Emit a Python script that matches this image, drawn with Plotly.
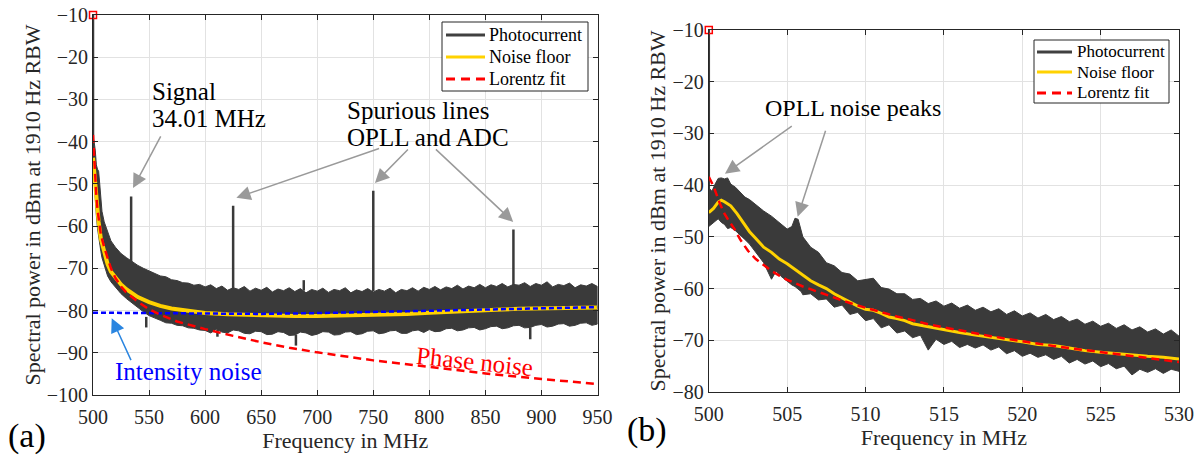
import plotly.graph_objects as go

# ---------------- Panel (a) data ----------------
a_freq = ([500, 501, 502, 503, 504, 505, 506, 507, 508, 510, 513, 516, 520, 525, 530, 535, 540, 545,
           550, 555, 560, 565, 570, 575, 580, 585, 590, 595] + list(range(600, 951, 5)))
a_upper = [-39, -40, -42, -45.5, -46.5, -47, -50, -54, -56.5, -59, -61.5, -63.5, -65, -66.5, -67.5,
           -68.5, -69.3, -70, -70.6, -71.3, -71.8, -72.0, -72.7, -72.9, -73.4, -73.5, -74, -73.8,
           -74.4, -73.9, -74.8, -74.2, -75.2, -74.6, -75.0, -74.3, -75.4, -74.7,
           -75.2, -74.5, -75.6, -74.9, -75.3, -74.6, -75.5, -74.8, -75.8, -75.0,
           -75.4, -74.7, -75.7, -75.0, -75.3, -74.6, -75.8, -75.1, -75.5, -74.8,
           -75.6, -75.0, -75.4, -74.7, -75.8, -75.0, -75.3, -74.6, -75.4, -74.5,
           -75.0, -74.3, -75.1, -74.4, -74.8, -74.0, -74.9, -74.2, -74.6, -73.8,
           -74.6, -73.9, -74.3, -73.6, -74.4, -73.8, -74.0, -73.4, -74.3, -73.6,
           -74.0, -73.2, -74.4, -73.8, -74.1, -73.5, -74.6, -73.9, -74.2, -73.6,
           -74.3]
a_lower = [-45, -50, -54, -57.5, -60.5, -62.5, -64.5, -66, -67.5, -69.5, -71.8, -73.2, -74.5, -76,
           -77.2, -78.3, -79.3, -80.3, -81.2, -81.8, -82.3, -82.9, -83, -83.5, -83.6, -84.1, -84.2,
           -84.6,
           -84.7, -85.3, -84.4, -85.1, -85.3, -84.6, -84.8, -85.4, -85.5, -84.9,
           -85.0, -85.7, -85.6, -85.0, -85.2, -85.9, -85.8, -85.1, -85.3, -85.9,
           -85.6, -85.0, -85.1, -85.8, -85.7, -85.1, -85.0, -85.7, -85.5, -84.9,
           -84.8, -85.5, -85.3, -84.8, -84.7, -85.4, -85.4, -84.8, -84.6, -85.2,
           -84.5, -85.0, -84.9, -84.3, -84.2, -84.8, -84.6, -84.1, -84.0, -84.6,
           -84.3, -83.8, -83.7, -84.3, -84.1, -83.6, -83.5, -84.1, -84.0, -83.5,
           -83.3, -83.9, -83.7, -83.2, -83.1, -83.7, -83.5, -83.0, -82.9, -83.5,
           -83.2]
a_spike_f = [500, 534.01, 625, 688, 750, 875]
a_spike_base = [-40, -68.5, -74.8, -75.3, -75.4, -74.2]
a_spike_top = [-10, -53, -55.2, -72.8, -51.6, -60.8]
a_dip_f = [547.5, 611, 681, 890]
a_dip_base = [-81.5, -84.5, -85.7, -84.0]
a_dip_bottom = [-84, -86.2, -88.3, -86.8]
a_floor_f = [500, 501, 502, 503, 504, 505, 507, 510, 513, 516, 520, 525, 530, 535, 540, 550, 560, 570,
             580, 590, 600, 620, 640, 660, 680, 700, 720, 740, 760, 780, 800, 820, 840, 860, 880, 900,
             920, 940, 950]
a_floor = [-43.8, -47, -51, -54.5, -57, -59, -63, -66.5, -69, -70.8, -72.3, -73.8, -75, -76, -76.8,
           -78, -78.9, -79.5, -79.9, -80.3, -80.6, -80.9, -81.1, -81.2, -81.3, -81.3, -81.2, -81.0,
           -81.0, -80.8, -80.5, -80.2, -80.0, -79.8, -79.6, -79.5, -79.4, -79.3, -79.3]
a_fit_f = [500, 501, 502, 503, 504, 505, 507, 510, 513, 516, 520, 525, 530, 540, 550, 560, 575, 600,
           625, 650, 675, 700, 750, 800, 850, 900, 950]
a_fit = [-38.4, -44, -49.3, -53, -56, -58.5, -62, -65, -67.8, -70, -72.3, -74.3, -75.8, -77.9, -79.7,
         -81, -82.6, -84.4, -86, -87.5, -88.8, -89.9, -91.8, -93.4, -94.9, -96.2, -97.4]
a_int_f = [500, 550, 600, 650, 700, 750, 800, 850, 900, 950]
a_int = [-80.5, -80.6, -80.7, -80.8, -80.6, -80.3, -80.0, -79.7, -79.4, -79.2]
a_ticks_x = [500, 550, 600, 650, 700, 750, 800, 850, 900, 950]
a_ticks_y = [-100, -90, -80, -70, -60, -50, -40, -30, -20, -10]

# ---------------- Panel (b) data ----------------
b_freq = ([500.0, 500.2, 500.4, 500.6, 500.8, 501.0, 501.2, 501.4, 501.7, 502.0, 502.3, 502.6, 503.0,
           503.5, 504.0, 504.3, 504.6, 505.0, 505.3, 505.5, 505.7, 505.9]
          + [506 + 0.5 * i for i in range(49)])
b_upper = [-40.5, -41.2, -39.8, -38.7, -38.6, -38.8, -38.6, -39.8, -40.4, -41.3, -42.3, -42.8, -43.8,
           -45.0, -46.0, -46.8, -47.6, -48.5, -48.0, -46.4, -46.6, -48.8,
           -50.0, -52.0, -53.0, -55.0, -55.6, -56.9, -57.2, -58.5, -58.2, -58.0,
           -59.8, -60.1, -61.0, -61.0, -62.1, -61.9, -62.9, -62.4, -63.4, -62.8,
           -63.8, -63.2, -64.2, -63.6, -64.5, -63.9, -65.0, -64.3, -65.3, -64.7,
           -65.7, -65.0, -66.0, -65.4, -66.4, -65.9, -66.9, -66.3, -67.3, -66.7,
           -67.7, -67.0, -68.0, -67.4, -68.4, -67.8, -68.8, -68.0, -69.2]
b_lower = [-48.0, -47.6, -47.0, -46.5, -47.2, -47.6, -48.4, -48.2, -48.8, -49.6, -50.5, -51.4, -53.0,
           -55.0, -58.2, -56.6, -57.6, -58.6, -59.3, -59.6, -60.0, -60.6,
           -61.2, -61.0, -62.2, -62.0, -63.6, -63.2, -65.0, -64.6, -66.2, -65.8,
           -67.6, -67.0, -68.6, -68.2, -69.5, -69.0, -71.9, -69.8, -70.8, -70.2,
           -71.4, -70.8, -71.5, -70.9, -71.9, -71.3, -72.6, -72.0, -73.1, -72.5,
           -73.3, -72.8, -73.7, -73.1, -74.4, -73.7, -74.6, -74.0, -75.1, -74.5,
           -75.5, -75.0, -76.7, -75.6, -76.2, -75.5, -76.4, -75.6, -76.0]
b_spike_f = [500]
b_spike_base = [-45]
b_spike_top = [-10]
b_floor_f = [500.0, 500.3, 500.6, 500.8, 501.0, 501.4, 501.8, 502.2, 502.6, 503.0, 503.5, 504.0, 504.5,
             505.0, 505.5, 506.0, 506.5, 507.0, 507.5, 508.0, 508.5, 509.0, 509.5, 510.0, 510.5, 511.0,
             511.5, 512.0, 512.5, 513.0, 514.0, 515.0, 516.0, 517.0, 518.0, 519.0, 520.0, 521.0, 522.0,
             523.0, 524.0, 525.0, 526.0, 527.0, 528.0, 529.0, 530.0]
b_floor = [-45.3, -44.5, -43.3, -42.9, -43.2, -44.0, -45.5, -47.3, -49.0, -50.3, -52.0, -53.0, -54.3,
           -55.2, -56.3, -57.4, -58.5, -59.3, -60.0, -61.0, -61.8, -62.6, -63.4, -64.0, -64.2, -64.8,
           -65.5, -65.8, -66.2, -66.8, -67.4, -68.0, -68.5, -69.0, -69.4, -69.8, -70.3, -70.8, -71.0,
           -71.5, -72.0, -72.3, -72.6, -72.8, -73.1, -73.3, -73.6]
b_fit_f = [500.0, 500.3, 500.7, 501.0, 501.3, 501.6, 502.0, 502.5, 503.0, 503.5, 504.0, 504.5, 505.0,
           506.0, 507.0, 508.0, 509.0, 510.0, 511.0, 512.0, 513.0, 514.0, 515.0, 516.0, 517.0, 518.0,
           519.0, 520.0, 521.0, 522.0, 523.0, 524.0, 525.0, 526.0, 527.0, 528.0, 529.0, 530.0]
b_fit = [-38.4, -40.2, -43.5, -45.5, -47.0, -48.3, -50.5, -52.7, -54.3, -55.5, -56.6, -57.5, -58.3,
         -59.6, -60.7, -61.8, -62.8, -63.7, -64.6, -65.4, -66.1, -66.9, -67.5, -68.1, -68.7, -69.2,
         -69.7, -70.2, -70.6, -71.1, -71.5, -71.9, -72.3, -72.7, -73.1, -73.5, -73.8, -74.2]
b_ticks_x = [500, 505, 510, 515, 520, 525, 530]
b_ticks_y = [-80, -70, -60, -50, -40, -30, -20, -10]

legend_names = ["Photocurrent", "Noise floor", "Lorentz fit"]

# ---------------- styling ----------------
FONT = "Liberation Serif"
DARK = "#3a3a3a"
YELLOW = "#ffd200"
RED = "#ff0000"
AXC = "#262626"
GRID = "#e2e2e2"
W, H = 1204, 459


def px(x):
    return x / W


def py(y):
    return 1 - y / H


def seg(fs, y0s, y1s):
    xs, ys = [], []
    for f, a, b in zip(fs, y0s, y1s):
        xs += [f, f, None]
        ys += [a, b, None]
    return xs, ys


fig = go.Figure()


def add_panel(xa, ya, freq, up, lo, sp_f, sp_b, sp_t, dp_f, dp_b, dp_t, fl_f, fl, floor_w):
    fig.add_trace(go.Scatter(x=freq + freq[::-1], y=up + lo[::-1], fill="toself",
                             fillcolor=DARK, line=dict(color=DARK, width=1),
                             mode="lines", showlegend=False, hoverinfo="skip",
                             xaxis=xa, yaxis=ya))
    sx, sy = seg(sp_f + dp_f, sp_b + dp_b, sp_t + dp_t)
    fig.add_trace(go.Scatter(x=sx, y=sy, mode="lines", line=dict(color=DARK, width=2.5),
                             name=legend_names[0], showlegend=False, xaxis=xa, yaxis=ya))
    fig.add_trace(go.Scatter(x=fl_f, y=fl, mode="lines", line=dict(color=YELLOW, width=floor_w),
                             name=legend_names[1], showlegend=False, xaxis=xa, yaxis=ya))


add_panel("x", "y", a_freq, a_upper, a_lower, a_spike_f, a_spike_base, a_spike_top,
          a_dip_f, a_dip_base, a_dip_bottom, a_floor_f, a_floor, 4)
fig.add_trace(go.Scatter(x=a_int_f, y=a_int, mode="lines",
                         line=dict(color="#0000ff", width=2.5, dash="5px,3px"),
                         showlegend=False, xaxis="x", yaxis="y"))
fig.add_trace(go.Scatter(x=a_fit_f, y=a_fit, mode="lines",
                         line=dict(color=RED, width=2.5, dash="8px,5px"),
                         name=legend_names[2], showlegend=False, xaxis="x", yaxis="y"))
fig.add_trace(go.Scatter(x=[a_spike_f[0]], y=[a_spike_top[0]], mode="markers",
                         marker=dict(symbol="square-open", size=7, color=RED, line=dict(width=1.5)),
                         cliponaxis=False, showlegend=False, xaxis="x", yaxis="y"))

add_panel("x2", "y2", b_freq, b_upper, b_lower, b_spike_f, b_spike_base, b_spike_top,
          [], [], [], b_floor_f, b_floor, 3)
fig.add_trace(go.Scatter(x=b_fit_f, y=b_fit, mode="lines",
                         line=dict(color=RED, width=2.5, dash="8px,5px"),
                         name=legend_names[2], showlegend=False, xaxis="x2", yaxis="y2"))
fig.add_trace(go.Scatter(x=[b_spike_f[0]], y=[b_spike_top[0]], mode="markers",
                         marker=dict(symbol="square-open", size=7, color=RED, line=dict(width=1.5)),
                         cliponaxis=False, showlegend=False, xaxis="x2", yaxis="y2"))


def axis(domain, rng, ticks, title, anchor, standoff, lab_standoff):
    return dict(domain=domain, range=rng, tickvals=ticks, anchor=anchor,
                showgrid=True, gridcolor=GRID, gridwidth=1, zeroline=False,
                showline=True, linecolor=AXC, linewidth=1, mirror="ticks",
                ticks="inside", ticklen=5, tickcolor=AXC, ticklabelstandoff=lab_standoff,
                ticklabeloverflow="allow",
                tickfont=dict(family=FONT, size=20, color=AXC),
                title=dict(text=title, font=dict(family=FONT, size=22, color=AXC), standoff=standoff),
                automargin=False)


fig.update_layout(
    width=W, height=H, margin=dict(l=0, r=0, t=0, b=0),
    plot_bgcolor="white", paper_bgcolor="white",
    font=dict(family=FONT, color=AXC), showlegend=False,
    xaxis=axis([px(93), px(597.5)], [500, 950], a_ticks_x, "Frequency in MHz", "y", 4, 4),
    yaxis=axis([py(395), py(15)], [-100, -10], a_ticks_y,
               "Spectral power in dBm at 1910 Hz RBW", "x", 0, 0),
    xaxis2=axis([px(708.8), px(1179)], [500, 530], b_ticks_x, "Frequency in MHz", "y2", 4, 4),
    yaxis2=axis([py(392), py(30)], [-80, -10], b_ticks_y,
                "Spectral power in dBm at 1910 Hz RBW", "x2", 0, 0),
)

ann = []
shapes = []
TF = dict(family=FONT, size=25, color="black")


def txt(x, y, t, xr, yr, xanchor="left", font=TF, angle=0):
    ann.append(dict(x=x, y=y, text=t, xref=xr, yref=yr, showarrow=False,
                    xanchor=xanchor, yanchor="middle", font=font, textangle=angle))


def arrow(x, y, ax, ay, xr, yr, color="#9a9a9a"):
    ann.append(dict(x=x, y=y, ax=ax, ay=ay, xref=xr, yref=yr, axref=xr, ayref=yr,
                    text="", showarrow=True, arrowhead=2, arrowsize=1.9, arrowwidth=1.5,
                    arrowcolor=color))


def legend_box(x0, x1, y0, y1, rows, lx0, lx1, tx, fsize):
    shapes.append(dict(type="rect", xref="paper", yref="paper", x0=px(x0), x1=px(x1),
                       y0=py(y1), y1=py(y0), line=dict(color=AXC, width=1), fillcolor="white",
                       layer="above"))
    styles = [dict(color="#404040", width=3), dict(color=YELLOW, width=3),
              dict(color=RED, width=3, dash="9px,6px")]
    for name, ry, st in zip(legend_names, rows, styles):
        shapes.append(dict(type="line", xref="paper", yref="paper", x0=px(lx0), x1=px(lx1),
                           y0=py(ry), y1=py(ry), line=st, layer="above"))
        ann.append(dict(x=px(tx), y=py(ry), xref="paper", yref="paper", text=name,
                        showarrow=False, xanchor="left", yanchor="middle",
                        font=dict(family=FONT, size=fsize, color="black")))


# panel (a) annotations
txt(550.8, -28.2, "Signal", "x", "y")
txt(550.8, -34.6, "34.01 MHz", "x", "y")
txt(724.8, -32.5, "Spurious lines", "x", "y")
txt(724.8, -38.9, "OPLL and ADC", "x", "y")
arrow(535.7, -51.0, 561.1, -38.4, "x", "y")
arrow(627.9, -53.3, 756.5, -41.5, "x", "y")
arrow(751.5, -49.8, 782.2, -41.5, "x", "y")
arrow(874.8, -59.0, 804.5, -41.5, "x", "y")
txt(585.2, -94.5, "Intensity noise", "x", "y", "center", dict(family=FONT, size=25, color="#0000ff"))
arrow(516.7, -81.8, 534.5, -92.1, "x", "y", "#2a85e0")
txt(840.7, -92.1, "Phase noise", "x", "y", "center", dict(family=FONT, size=25, color=RED), 6)
# panel (b) annotations
txt(509.2, -25.1, "OPLL noise peaks", "x2", "y2", "center", dict(family=FONT, size=24, color="black"))
arrow(501.03, -37.8, 505.39, -28.4, "x2", "y2")
arrow(505.67, -46.1, 507.48, -29.2, "x2", "y2")
# legends
legend_box(442, 588, 22, 91, [35, 57, 79], 446, 485, 487, 18)
legend_box(1034, 1169, 40, 103, [52, 72, 93], 1037, 1072, 1075, 17)
# panel labels
ann.append(dict(x=px(27), y=py(436), xref="paper", yref="paper", text="(a)", showarrow=False,
                xanchor="center", yanchor="middle", font=dict(family=FONT, size=34, color="black")))
ann.append(dict(x=px(647), y=py(430), xref="paper", yref="paper", text="(b)", showarrow=False,
                xanchor="center", yanchor="middle", font=dict(family=FONT, size=34, color="black")))
fig.update_layout(annotations=ann, shapes=shapes)

fig.write_html("out.html", config={"displayModeBar": False},
               post_script="document.body.style.margin='0px';")
